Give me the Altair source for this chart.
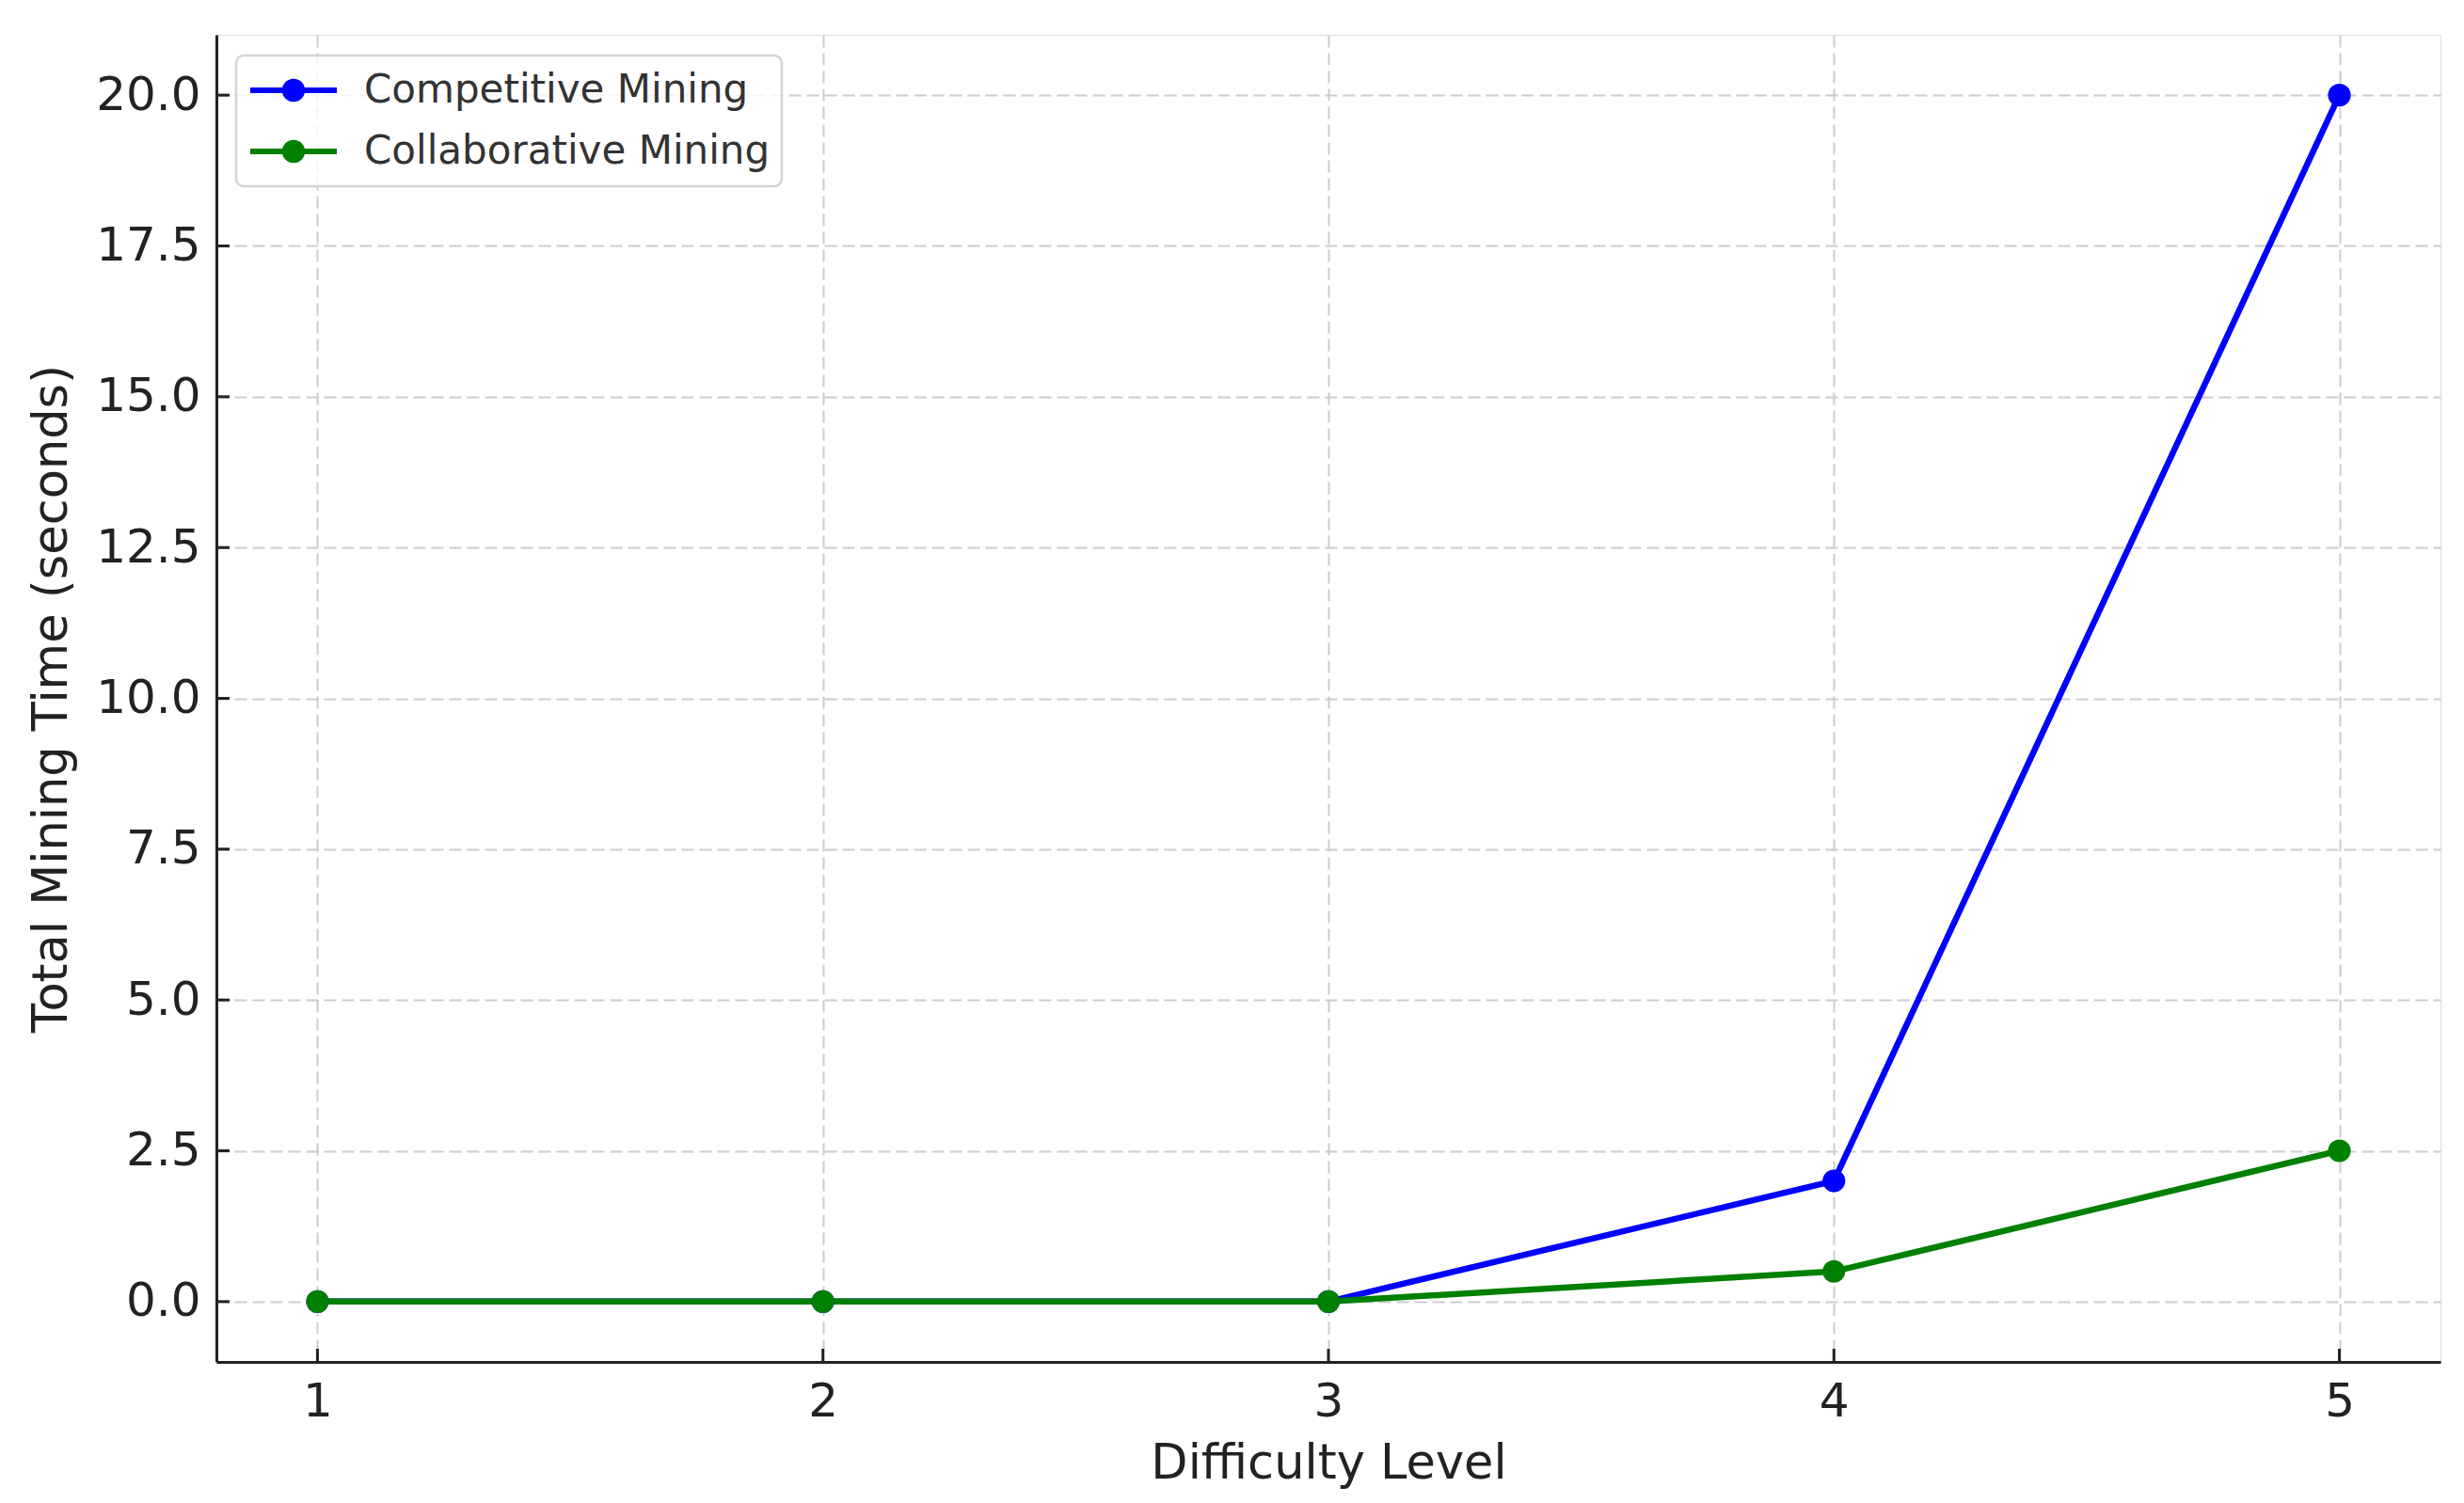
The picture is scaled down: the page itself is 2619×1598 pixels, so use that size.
import altair as alt
import pandas as pd

# ---- data ----
levels = [1, 2, 3, 4, 5]
competitive = [0.0, 0.0, 0.0, 2.0, 20.0]
collaborative = [0.0, 0.0, 0.0, 0.5, 2.5]
series_names = ["Competitive Mining", "Collaborative Mining"]
series_colors = ["#0000ff", "#008000"]
x_ticks = [1, 2, 3, 4, 5]
y_ticks = [0, 2.5, 5, 7.5, 10, 12.5, 15, 17.5, 20]

rows = []
for i, lv in enumerate(levels):
    rows.append({"level": lv, "time": competitive[i], "series": series_names[0], "ord": 0})
for i, lv in enumerate(levels):
    rows.append({"level": lv, "time": collaborative[i], "series": series_names[1], "ord": 1})
df = pd.DataFrame(rows)

W, H = 2364, 1411
FONT = "DejaVu Sans"
TXT = "#222222"

x_scale = alt.Scale(domain=[0.8, 5.2], nice=False, zero=False)
y_scale = alt.Scale(domain=[-1, 21], nice=False, zero=False)
color_scale = alt.Scale(domain=series_names, range=series_colors)

grid_props = dict(grid=True, gridDash=[13, 6], gridColor="#cccccc", gridWidth=2,
                  ticks=False, domainColor=TXT, domainWidth=3,
                  labelFont=FONT, labelFontSize=50, labelColor=TXT, labelPadding=17,
                  titleFont=FONT, titleFontSize=51, titleColor=TXT, titleFontWeight="normal")

x_axis = alt.Axis(values=x_ticks, format="d", title="Difficulty Level", titlePadding=16, **grid_props)
y_axis = alt.Axis(values=y_ticks, format=".1f", title="Total Mining Time (seconds)", titlePadding=20, **grid_props)

symbol_path = "M -1 0 L 1 0 M 0.2 0 A 0.2 0.2 0 1 1 -0.2 0 A 0.2 0.2 0 1 1 0.2 0 Z"

legend = alt.Legend(title=None, orient="none", legendX=21, legendY=22,
                    symbolType=symbol_path, symbolSize=8464, symbolStrokeWidth=6,
                    labelFont=FONT, labelFontSize=42, labelColor="#333333", labelOffset=26,
                    labelLimit=2000, clipHeight=50,
                    fillColor="rgba(255,255,255,0.8)", strokeColor="#d4d4d4", cornerRadius=8,
                    padding=12, rowPadding=15)

base = alt.Chart(df).encode(
    x=alt.X("level:Q", scale=x_scale, axis=x_axis),
    y=alt.Y("time:Q", scale=y_scale, axis=y_axis),
    color=alt.Color("series:N", scale=color_scale, legend=legend, sort=series_names),
    detail="series:N",
    order=alt.Order("ord:Q"),
)

lines = base.mark_line(strokeWidth=6.5)
points = base.mark_point(filled=True, size=580, opacity=1)

ytick_df = pd.DataFrame({"time": y_ticks})
xtick_df = pd.DataFrame({"level": x_ticks})

ytick_layer = alt.Chart(ytick_df).mark_rule(color=TXT, strokeWidth=3).encode(
    y=alt.Y("time:Q", scale=y_scale, axis=y_axis),
    x=alt.value(0), x2=alt.value(14),
)
xtick_layer = alt.Chart(xtick_df).mark_rule(color=TXT, strokeWidth=3).encode(
    x=alt.X("level:Q", scale=x_scale, axis=x_axis),
    y=alt.value(H), y2=alt.value(H - 14),
)

chart = alt.layer(lines, points, ytick_layer, xtick_layer).properties(
    width=W, height=H,
    autosize=alt.AutoSizeParams(type="none"),
    padding={"left": 222, "top": 29, "right": 17, "bottom": 142},
    background="white",
).configure_view(stroke=None).configure(font=FONT).configure_legend(strokeWidth=2.5)

chart.save("out.html", embed_options={"renderer": "svg", "actions": False})
